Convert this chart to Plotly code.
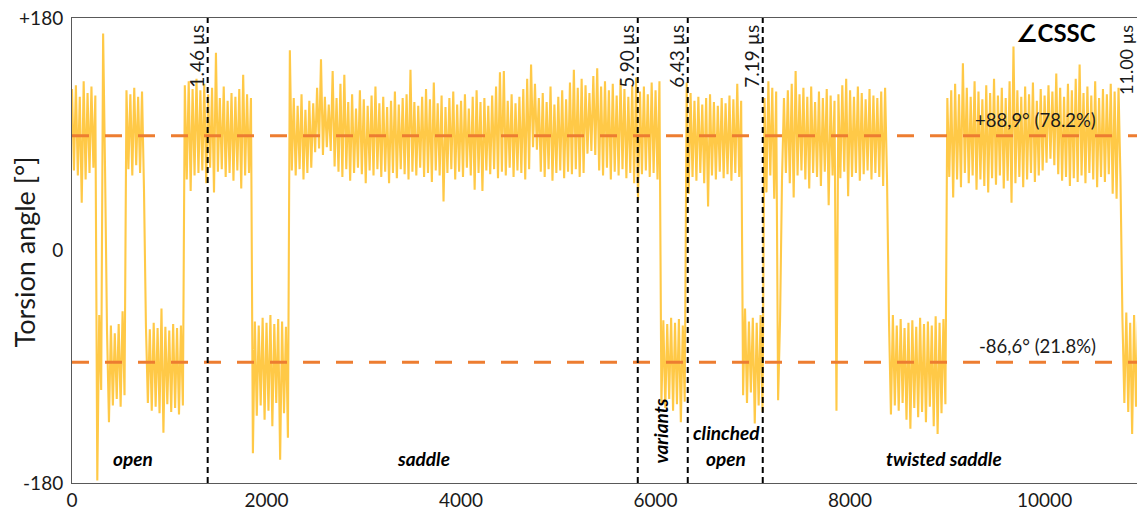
import plotly.graph_objects as go

# ---------------- data ----------------
# torsion angle samples (deg), one sample every 20 frames; alternating upper / lower
# extremes of the fluctuating signal, grouped by dwell segment
seg01 = [125, 62, 128, 58, 119, 37, 131, 55, 122, 60, 127, 64, 120]
seg02 = [-178, -50, -108]
seg03 = [168, 62]
seg04 = [-62, -133, -58, -120, -64, -115, -57, -121, -47, -112]
seg05 = [124, 63, 121, 58, 126, 66, 119, 60, 123, 48]
seg06 = [-58, -118, -61, -124, -56, -121, -60, -126, -45, -141,
         -59, -119, -62, -125, -57, -122, -60, -127, -58, -120]
seg07 = [128, 55, 131, 46, 125, 58, 133, 60, 124, 62, 129, 52, 121, 64, 126, 45, 153, 61,
         118, 63, 127, 57, 116, 60, 122, 54, 119, 62, 125, 48, 136, 58, 121, 60, 118]
seg08 = [-157, -55, -128, -58, -120, -52, -131, -56, -124, -50, -136, -57, -118, -53,
         -162, -55, -126, -59, -145]
seg09 = [155, 62, 118, 58, 112, 63, 121, 55, 109, 60, 116, 64, 114, 76, 126, 79, 148, 74,
         119, 80, 113, 77, 139, 65, 118, 61, 129, 57, 136, 63, 115, 54, 121, 60, 110, 64,
         124, 59, 117, 52, 112, 62, 120, 58, 127, 63, 114, 57, 119, 61, 111, 52, 116, 60,
         123, 56, 113, 63, 118, 59, 121, 55, 140, 61, 115, 58, 112, 64, 119, 57, 125, 60,
         117, 53, 130, 62, 114, 58, 120, 38, 111, 60, 118, 63, 123, 55, 113, 61, 116, 57,
         121, 64, 110, 58, 119, 47, 124, 60, 115, 46, 118, 62, 112, 59, 120, 63, 127, 56,
         138, 61, 139, 58, 116, 64, 121, 57, 114, 62, 119, 60, 125, 55, 133, 63, 144, 80,
         129, 78, 118, 61, 122, 57, 115, 63, 127, 54, 113, 60, 119, 62, 124, 56, 117, 61,
         130, 59, 140, 63, 126, 57, 133, 60, 128, 75, 122, 77, 135, 74, 141, 62, 127, 58,
         131, 64, 124, 55, 129, 61, 120, 58, 132, 63, 125, 56, 119, 60, 128, 52, 134, 39,
         123, 59, 127, 62, 121, 57, 130, 60, 124, 55, 131]
seg10 = [-118, -54, -122, -57, -115, -52, -124, -56, -119, -53, -133, -58, -117]
seg11 = [130, 44, 122, 57, 116, 54, 119, 60, 113, 52, 118, 34, 121, 58, 115, 55, 112, 61,
         118, 56, 114, 59, 120, 54, 117, 60, 129, 57, 116]
seg12 = [-112, -45, -118, -55, -110, -52, -134, -56, -120, -50, -125]
seg13 = [118, 45, 131, 58, 126, 40, 123]
seg14 = [-116, -54]
seg15 = [55, 118, 60, 124, 52, 129, 41, 139, 58, 121, 62, 126, 55, 119, 48, 127, 60, 115,
         57, 123, 50, 118, 61, 125, 35, 120, 58, 116, -124, 121, 56, 128, 61, 133, 42, 124,
         57, 119, 60, 127, 54, 122, 59, 117, 62, 125, 55, 120, 60, 118, 57, 123, 50, 126, 54]
seg16 = [-55, -127, -50, -120, -58, -124, -53, -118, -60, -131, -56, -138, -54, -122, -59,
         -129, -52, -125, -57, -133, -55, -121, -58, -136, -51, -142, -56, -126, -53, -119]
seg17 = [118, 57, 124, 41, 129, 55, 121, 49, 145, 60, 126, 52, 119, 58, 131, 47, 123, 55,
         117, 50, 128, 45, 122, 56, 133, 51, 120, 58, 126, 48, 118, 54, 131, 37, 158, 52,
         124, 57, 119, 49, 127, 55, 121, 60, 130, 53, 116, 58, 125, 62, 120, 68, 128, 71,
         123, 66, 137, 59, 126, 54, 119, 57, 129, 50, 124, 56, 133, 53, 144, 58, 122, 52,
         127, 60, 120, 55, 131, 49, 118, 57, 125, 53, 121, 59, 129, 44, 123, 40, 126, 56]
seg18 = [-52, -118, -48, -125, -56, -142, -50, -121, -55]

frame_step = 20

state_levels = [88.9, -86.6]
state_labels = ["+88,9° (78.2%)", "-86,6° (21.8%)"]

event_frames = [1395, 5817, 6331, 7102]
event_labels = ["1.46 µs", "5.90 µs", "6.43 µs", "7.19 µs"]
end_frame = 10950
end_label = "11.00 µs"

x_ticks = [0, 2000, 4000, 6000, 8000, 10000]
x_ticktext = ["0", "2000", "4000", "6000", "8000", "10000"]
y_ticks = [-180, 0, 180]
y_ticktext = ["-180", "0", "+180"]

# ---------------- figure ----------------
angle = (seg01 + seg02 + seg03 + seg04 + seg05 + seg06 + seg07 + seg08 + seg09 + seg10
         + seg11 + seg12 + seg13 + seg14 + seg15 + seg16 + seg17 + seg18)
frames = [i * frame_step for i in range(len(angle))]

W, H = 1137, 511
L, R, T, B = 72, 0, 18, 23
PW, PH = W - L - R, H - T - B
FONT = "Lato, 'DejaVu Sans', sans-serif"
TXT = "#1a1a1a"


def px(xp):
    return (xp - L) / PW


def py(yp):
    return (H - B - yp) / PH


fig = go.Figure()
fig.add_trace(go.Scatter(
    x=frames, y=angle, mode="lines",
    line=dict(color="#FFC947", width=2.1, simplify=False),
    hoverinfo="skip", showlegend=False,
))

for lvl, lab in zip(state_levels, state_labels):
    fig.add_shape(type="line", xref="paper", x0=0, x1=1, yref="y", y0=lvl, y1=lvl,
                  line=dict(color="#ED7D31", width=3, dash="17px,16px"))
    fig.add_annotation(xref="paper", x=px(1098), yref="y", y=lvl, yshift=16,
                       xanchor="right", yanchor="middle", showarrow=False,
                       text=lab, font=dict(family=FONT, size=18.5, color=TXT))

for fr, lab in zip(event_frames, event_labels):
    fig.add_shape(type="line", xref="x", x0=fr, x1=fr, yref="paper", y0=0, y1=1,
                  line=dict(color="black", width=2, dash="6px,4px"))
    fig.add_annotation(xref="x", x=fr, xshift=-11.5, yref="paper", y=py(23),
                       xanchor="center", yanchor="top", textangle=-90, showarrow=False,
                       text=lab, font=dict(family=FONT, size=19, color=TXT))

fig.add_annotation(xref="x", x=end_frame, xshift=-11, yref="paper", y=py(23),
                   xanchor="center", yanchor="top", textangle=-90, showarrow=False,
                   text=end_label, font=dict(family=FONT, size=18, color=TXT))

fig.add_annotation(xref="paper", x=px(1098), yref="paper", y=py(33),
                   xanchor="right", yanchor="middle", showarrow=False,
                   text="<b>∠CSSC</b>", font=dict(family=FONT, size=24, color="black"))

regions = [("open", 133, 463, 0), ("saddle", 423, 463, 0), ("twisted saddle", 944, 463, 0),
           ("clinched", 726, 437, 0), ("open", 726, 463, 0), ("variants", 661, 436, -90)]
for lab, xp, yp, ang in regions:
    fig.add_annotation(xref="paper", x=px(xp), yref="paper", y=py(yp),
                       xanchor="center", yanchor="middle", textangle=ang, showarrow=False,
                       text=f"<b><i>{lab}</i></b>", font=dict(family=FONT, size=19, color="black"))

fig.add_annotation(xref="paper", x=px(24), yref="paper", y=py(255),
                   xanchor="center", yanchor="middle", textangle=-90, showarrow=False,
                   text="Torsion angle [°]", font=dict(family=FONT, size=27, color=TXT))

fig.update_layout(
    width=W, height=H,
    margin=dict(l=L, r=R, t=T, b=B, pad=0),
    paper_bgcolor="white", plot_bgcolor="white",
    showlegend=False,
    xaxis=dict(range=[0, end_frame], tickvals=x_ticks, ticktext=x_ticktext,
               showgrid=False, zeroline=False,
               showline=True, linecolor="#595959", linewidth=1, mirror=True, ticks="",
               tickfont=dict(family=FONT, size=19, color=TXT)),
    yaxis=dict(range=[-180, 180], tickvals=y_ticks, ticktext=y_ticktext, showgrid=False,
               zeroline=False, showline=True, linecolor="#595959", linewidth=1, ticks="",
               ticklabelstandoff=4, tickfont=dict(family=FONT, size=19, color=TXT)),
)

fig.write_html("out.html", config={"displayModeBar": False},
               post_script="document.body.style.margin='0';document.body.style.padding='0';")
